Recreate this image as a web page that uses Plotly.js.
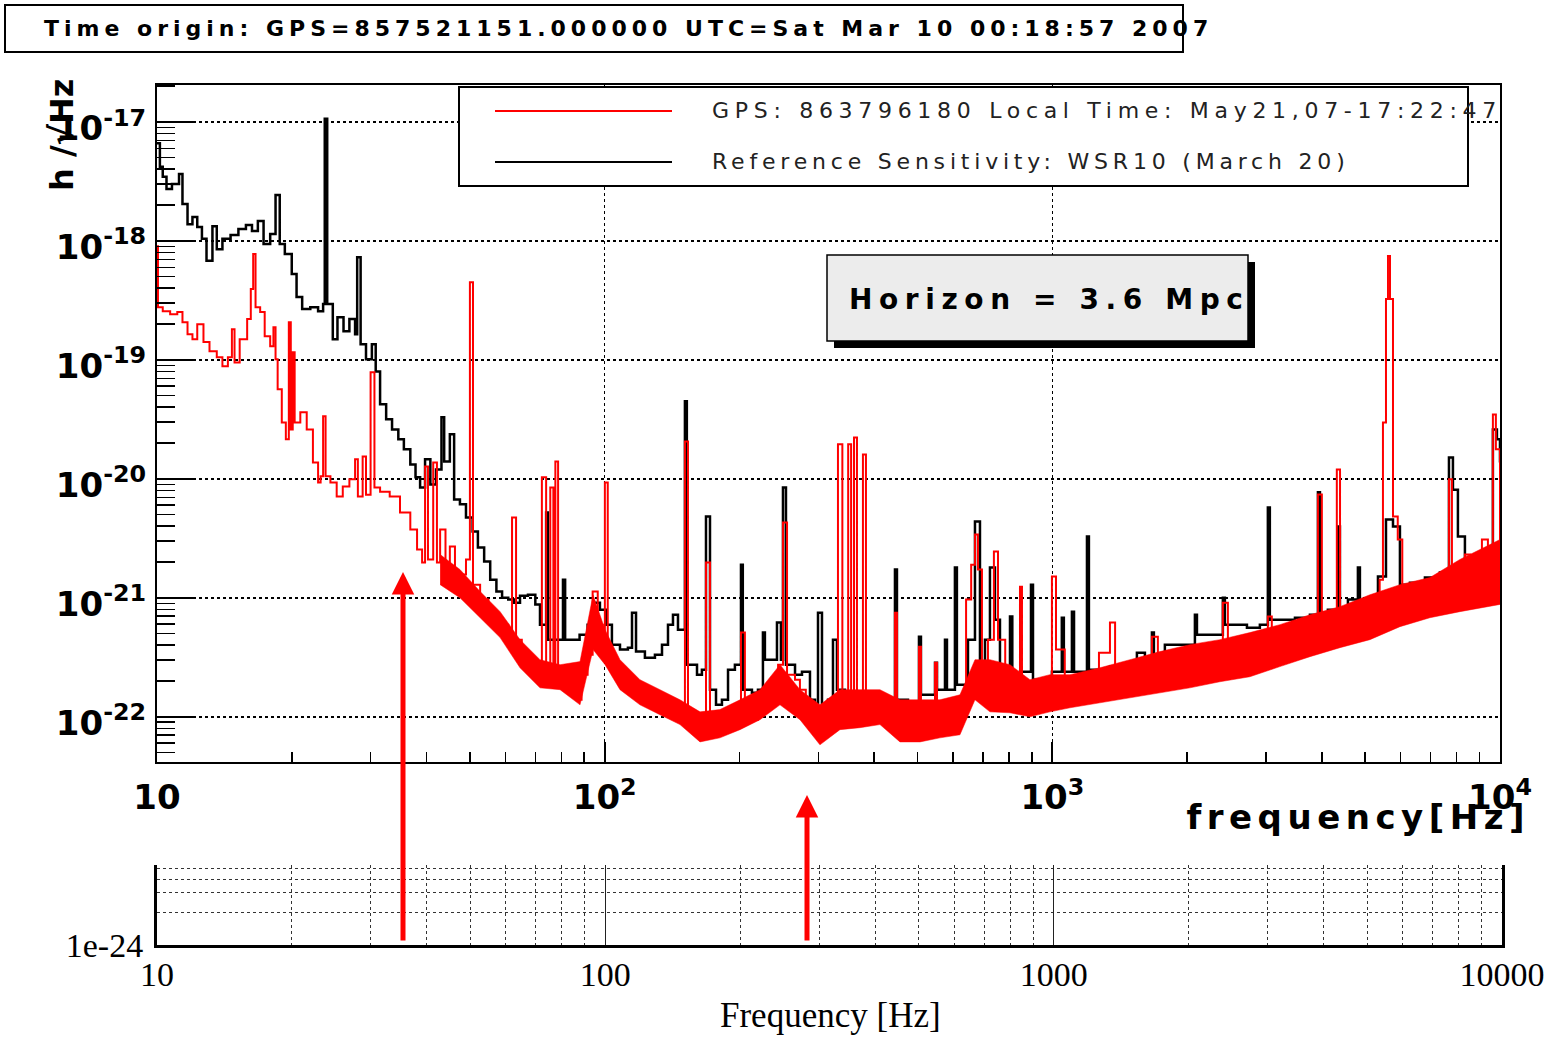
<!DOCTYPE html>
<html>
<head>
<meta charset="utf-8">
<script src="https://cdn.plot.ly/plotly-3.0.1.min.js"></script>
<style>
  html, body { margin: 0; padding: 0; background: #ffffff; }
  #chart { width: 1557px; height: 1038px; }
</style>
</head>
<body>
<div id="chart"></div>
<script>
// ---------------- data ----------------
// Reference sensitivity (black), frequency in Hz and strain amplitude h/sqrt(Hz)
const blackFreq = [
  10.0, 10.15, 10.3, 10.5, 10.8, 11.2, 11.4, 11.7, 12.0, 12.3, 12.6, 12.9, 13.3, 13.6, 14.0, 14.6, 15.2, 15.8, 16.3, 16.8,
  17.3, 17.9, 18.4, 18.8, 19.3, 20.0, 20.5, 21.1, 22.0, 22.9, 23.5, 23.7, 24.0, 24.7, 25.3, 26.1, 26.9, 27.7, 28.0, 28.5,
  29.3, 30.2, 30.8, 31.5, 32.5, 33.5, 34.6, 35.6, 36.8, 37.8, 38.7, 39.7, 40.8, 42.0, 43.2, 43.8, 45.1, 46.1, 47.5, 49.0,
  50.7, 52.1, 53.8, 55.5, 57.3, 59.0, 60.9, 62.8, 64.7, 67.4, 70.0, 71.7, 74.0, 74.7, 76.3, 80.7, 81.6, 83.6, 87.9, 91.6,
  94.5, 97.6, 100.7, 103.8, 108.2, 112.7, 115.1, 117.5, 123.0, 129.5, 134.3, 138.5, 142.1, 145.8, 151.1, 152.6, 155.1, 160.8, 164.9, 168.4,
  171.9, 177.3, 182.8, 188.6, 195.4, 201.6, 203.5, 206.8, 213.3, 220.0, 225.7, 228.0, 234.0, 242.6, 247.6, 250.2, 254.1, 266.2, 275.9, 287.5,
  295.0, 299.6, 305.8, 315.4, 323.6, 330.3, 344.2, 362.4, 381.5, 395.5, 412.1, 429.4, 445.1, 449.7, 456.7, 475.9, 503.6, 508.8, 527.5, 546.9,
  552.6, 575.7, 581.6, 590.0, 605.9, 612.1, 628.2, 648.0, 671.7, 689.2, 707.2, 725.5, 744.5, 763.9, 804.3, 813.9, 825.0, 846.7, 896.0, 905.3,
  938.4, 997.9, 1050, 1061, 1080, 1106, 1118, 1153, 1195, 1207, 1245, 1345, 1416, 1545, 1610, 1669, 1686, 1784, 1928, 2082,
  2104, 2249, 2404, 2429, 2532, 2721, 2908, 3030, 3061, 3224, 3483, 3762, 3920, 3961, 4126, 4344, 4390, 4574, 4815, 4865,
  5121, 5338, 5563, 5767, 5977, 6292, 6797, 7340, 7691, 7850, 8054, 8349, 8789, 9112, 9397, 9641, 9843, 10000
];
const blackAmp = [
  6.6e-18, 4.2e-18, 3.45e-18, 2.73e-18, 3.0e-18, 3.65e-18, 2.04e-18, 1.38e-18, 1.59e-18, 1.31e-18, 1.04e-18, 6.8e-19, 1.33e-18, 8.5e-19, 1.04e-18, 1.12e-18, 1.26e-18, 1.36e-18, 1.21e-18, 1.47e-18,
  9.4e-19, 1.14e-18, 2.43e-18, 9.4e-19, 7.75e-19, 5.26e-19, 3.37e-19, 2.67e-19, 2.77e-19, 2.56e-19, 2.94e-19, 1.06e-17, 2.94e-19, 1.49e-19, 2.28e-19, 1.74e-19, 2.2e-19, 1.64e-19, 7.3e-19, 1.35e-19,
  1.01e-19, 1.35e-19, 8.0e-20, 4.23e-20, 3.16e-20, 2.6e-20, 2.15e-20, 1.77e-20, 1.32e-20, 1.03e-20, 8.45e-21, 1.46e-20, 8.95e-21, 1.2e-20, 3.29e-20, 1.4e-20, 2.37e-20, 6.7e-21, 6.1e-21, 4.73e-21,
  3.6e-21, 2.65e-21, 2.02e-21, 1.42e-21, 1.13e-21, 1.0e-21, 9.67e-22, 9.1e-22, 1.04e-21, 1.06e-21, 8.77e-22, 5.95e-22, 5.2e-21, 4.45e-22, 4.45e-22, 1.42e-21, 4.45e-22, 4.45e-22, 4.9e-22, 5.95e-22,
  9.1e-22, 7.93e-22, 5.95e-22, 4.04e-22, 3.67e-22, 3.81e-22, 7.5e-22, 3.53e-22, 3.14e-22, 3.33e-22, 4.04e-22, 5.95e-22, 7.2e-22, 5.4e-22, 4.49e-20, 2.74e-22, 2.74e-22, 2.26e-22, 2.49e-22, 4.83e-21,
  1.69e-22, 1.26e-22, 1.39e-22, 2.49e-22, 2.74e-22, 1.9e-21, 1.69e-22, 1.69e-22, 1.59e-22, 1.69e-22, 5.1e-22, 3.02e-22, 3.02e-22, 6.2e-22, 3.02e-22, 8.45e-21, 2.74e-22, 2.26e-22, 2.39e-22, 1.39e-22,
  1.26e-22, 7.5e-22, 1.19e-22, 1.39e-22, 4.45e-22, 1.69e-22, 1.26e-22, 1.53e-22, 1.15e-22, 1.45e-22, 1.19e-22, 1.39e-22, 1.73e-21, 1.39e-22, 1.39e-22, 1.26e-22, 4.71e-22, 1.53e-22, 1.53e-22, 2.85e-22,
  1.69e-22, 4.45e-22, 1.69e-22, 1.69e-22, 1.8e-21, 1.86e-22, 1.86e-22, 4.45e-22, 4.38e-21, 2.34e-22, 4.45e-22, 1.8e-21, 6.55e-22, 2.05e-22, 6.95e-22, 2.05e-22, 2.05e-22, 2.39e-22, 1.29e-21, 2.05e-22,
  2.05e-22, 2.39e-22, 6.8e-22, 2.39e-22, 2.39e-22, 7.65e-22, 2.39e-22, 2.39e-22, 3.27e-21, 2.49e-22, 2.49e-22, 2.64e-22, 2.74e-22, 3.46e-22, 3.02e-22, 5.1e-22, 3.33e-22, 4.04e-22, 4.04e-22, 7.2e-22,
  4.9e-22, 4.9e-22, 1.0e-21, 5.95e-22, 5.95e-22, 5.6e-22, 5.95e-22, 5.75e-21, 6.55e-22, 6.55e-22, 6.8e-22, 7.2e-22, 7.7e-21, 7.5e-22, 7.93e-22, 3.98e-21, 8.1e-22, 9.67e-22, 1.8e-21, 8.9e-22,
  1.0e-21, 1.51e-21, 4.55e-21, 3.98e-21, 1.29e-21, 1.34e-21, 1.48e-21, 1.63e-21, 1.51e-20, 8.1e-21, 3.27e-21, 2.1e-21, 2.17e-21, 2.31e-21, 2.1e-21, 2.6e-20, 2.15e-20, 1.37e-20
];

// Current spectrum (red), frequency in Hz and strain amplitude
const redFreq = [
  10.0, 10.05, 10.3, 10.7, 11.1, 11.4, 11.7, 12.0, 12.3, 12.7, 13.1, 13.6, 14.0, 14.4, 14.7, 14.9, 15.3, 15.9, 16.2, 16.4,
  16.6, 17.0, 17.4, 17.9, 18.2, 18.4, 18.6, 19.0, 19.4, 19.7, 19.9, 20.1, 20.3, 20.9, 21.6, 22.3, 22.9, 23.2, 23.5, 23.8,
  24.4, 25.2, 26.0, 26.9, 27.7, 28.1, 28.8, 29.3, 30.0, 30.6, 31.5, 33.1, 34.9, 36.8, 38.1, 39.1, 39.7, 40.3, 41.4, 42.2,
  42.9, 44.1, 45.1, 46.3, 48.0, 49.0, 50.0, 50.8, 52.7, 55.0, 56.9, 58.9, 60.9, 62.1, 63.4, 65.3, 68.0, 70.5, 72.4, 74.0,
  75.6, 76.8, 77.6, 78.7, 81.6, 84.6, 86.6, 88.8, 91.6, 94.0, 96.5, 99.0, 100.1, 101.6, 105.3, 109.3, 114.1, 120.2, 126.5, 133.2,
  140.3, 146.2, 150.0, 151.1, 153.5, 159.2, 163.3, 168.4, 171.9, 179.1, 186.6, 193.5, 198.6, 201.6, 205.7, 213.3, 220.0, 228.0, 236.4, 244.0,
  250.2, 255.5, 266.2, 273.0, 281.4, 290.2, 299.6, 309.1, 319.0, 327.1, 332.0, 339.6, 349.9, 355.2, 360.6, 366.1, 377.5, 383.4, 395.5, 412.1,
  433.9, 445.1, 449.7, 456.7, 480.7, 503.6, 508.8, 518.0, 546.9, 552.6, 575.7, 605.9, 628.2, 641.7, 658.7, 671.7, 682.1, 696.3, 718.1, 740.4,
  756.2, 784.8, 813.9, 846.7, 855.4, 873.4, 938.4, 997.9, 1019, 1066, 1178, 1271, 1345, 1381, 1564, 1669, 1721, 2025, 2404, 2467,
  3030, 3092, 3762, 3920, 4000, 4254, 4320, 4392, 5121, 5385, 5477, 5563, 5620, 5679, 5767, 5910, 6050, 6797, 7572, 7691,
  7810, 8349, 8578, 9112, 9397, 9641, 9790, 10000
];
const redAmp = [
  9.0e-19, 2.77e-19, 2.56e-19, 2.42e-19, 2.52e-19, 2.07e-19, 1.64e-19, 1.49e-19, 1.99e-19, 1.41e-19, 1.18e-19, 1.05e-19, 8.83e-20, 1.05e-19, 1.81e-19, 9.5e-20, 1.49e-19, 2.2e-19, 3.93e-19, 7.75e-19,
  2.77e-19, 2.52e-19, 1.58e-19, 1.3e-19, 1.88e-19, 1.01e-19, 5.66e-20, 2.98e-20, 2.15e-20, 2.07e-19, 2.6e-20, 1.16e-19, 2.98e-20, 3.62e-20, 2.6e-20, 1.37e-20, 9.33e-21, 1.05e-20, 3.35e-20, 1.05e-20,
  9.33e-21, 7.1e-21, 8.6e-21, 9.9e-21, 1.46e-20, 7.1e-21, 1.54e-20, 7.35e-21, 7.86e-20, 8.45e-21, 7.8e-21, 7.1e-21, 5.2e-21, 3.75e-21, 2.55e-21, 1.98e-21, 1.27e-20, 2.1e-21, 1.37e-20, 1.98e-21,
  3.75e-21, 1.51e-21, 2.7e-21, 1.17e-21, 1.57e-21, 2.1e-21, 4.5e-19, 1.29e-21, 9.67e-22, 7.65e-22, 6.8e-22, 5.95e-22, 4.9e-22, 4.73e-21, 4.45e-22, 3.33e-22, 2.74e-22, 2.58e-22, 1.03e-20, 2.39e-22,
  8.45e-21, 2.49e-22, 1.4e-20, 2.26e-22, 2.39e-22, 2.13e-22, 1.39e-22, 2.26e-22, 3.33e-22, 1.13e-21, 5.95e-22, 3.67e-22, 9.33e-21, 3.33e-22, 2.49e-22, 2.26e-22, 1.86e-22, 1.69e-22, 1.39e-22, 1.26e-22,
  1.15e-22, 1.26e-22, 1.04e-22, 2.06e-20, 9.45e-23, 8.6e-23, 7.8e-23, 1.98e-21, 7.5e-23, 8.1e-23, 9.45e-23, 1.15e-22, 9.8e-23, 5.1e-22, 1.04e-22, 9.45e-23, 1.26e-22, 1.69e-22, 2.05e-22, 2.74e-22,
  4.3e-21, 2.26e-22, 2.05e-22, 1.69e-22, 1.04e-22, 8.6e-23, 7.06e-23, 7.8e-23, 9.45e-23, 1.26e-22, 1.95e-20, 1.39e-22, 1.95e-20, 1.39e-22, 2.23e-20, 1.39e-22, 1.6e-20, 1.26e-22, 1.15e-22, 1.04e-22,
  8.6e-23, 7.5e-22, 9.0e-23, 7.8e-23, 7.06e-23, 3.88e-22, 8.0e-23, 7.8e-23, 2.85e-22, 8.1e-23, 8.1e-23, 8.6e-23, 1.39e-22, 9.67e-22, 1.9e-21, 3.4e-21, 1.73e-21, 1.69e-22, 4.45e-22, 2.45e-21,
  4.45e-22, 1.53e-22, 1.69e-22, 1.24e-21, 1.69e-22, 1.69e-22, 1.39e-22, 1.51e-21, 3.67e-22, 1.69e-22, 1.86e-22, 3.46e-22, 6.2e-22, 2.05e-22, 2.26e-22, 4.71e-22, 2.58e-22, 3.02e-22, 9.1e-22, 3.67e-22,
  6.95e-22, 4.45e-22, 5.4e-22, 7.4e-21, 5.95e-22, 6.55e-22, 1.2e-20, 6.55e-22, 7.93e-22, 1.42e-21, 2.98e-20, 3.24e-19, 7.45e-19, 3.24e-19, 4.83e-21, 3.09e-21, 1.17e-21, 1.17e-21, 1.22e-21, 9.9e-21,
  1.29e-21, 2.31e-21, 1.73e-21, 3.09e-21, 1.9e-21, 3.48e-20, 1.77e-20, 9.67e-22
];

// Thickness of the noisy red spectrum (upper / lower edge) above ~40 Hz
const bandFreq = [
  42.9, 47.5, 52.7, 58.4, 64.7, 71.7, 79.5, 88.1, 94.2, 100.2, 108.2, 119.9, 132.9, 147.3, 163.3, 180.9, 200.6, 222.3, 246.4, 273.1,
  302.6, 335.4, 371.7, 412.1, 456.7, 506.3, 561.0, 621.8, 671.7, 725.5, 804.3, 891.3, 987.6, 1095, 1277, 1491, 1739, 2029, 2367, 2762,
  3224, 3762, 4390, 5121, 5977, 6973, 8136, 9497, 10000
];
const bandHigh = [
  2.31e-21, 1.73e-21, 1.13e-21, 7.65e-22, 4.45e-22, 3.02e-22, 2.74e-22, 2.91e-22, 1.06e-21, 5.4e-22, 3.02e-22, 2.05e-22, 1.69e-22, 1.39e-22, 1.10e-22, 1.15e-22, 1.39e-22, 1.69e-22, 2.74e-22, 1.69e-22,
  1.26e-22, 1.69e-22, 1.69e-22, 1.69e-22, 1.39e-22, 1.39e-22, 1.39e-22, 1.53e-22, 3.02e-22, 3.02e-22, 2.74e-22, 2.05e-22, 2.26e-22, 2.26e-22, 2.58e-22, 3.02e-22, 3.53e-22, 4.04e-22, 4.45e-22, 5.1e-22,
  5.95e-22, 7.2e-22, 8.43e-22, 1.06e-21, 1.29e-21, 1.48e-21, 2.1e-21, 2.8e-21, 3.09e-21
];
const bandLow = [
  1.29e-21, 1.0e-21, 6.8e-22, 4.63e-22, 2.58e-22, 1.75e-22, 1.69e-22, 1.26e-22, 3.67e-22, 2.74e-22, 1.69e-22, 1.26e-22, 1.04e-22, 8.6e-23, 6.15e-23, 6.65e-23, 7.8e-23, 9.45e-23, 1.26e-22, 9.45e-23,
  5.81e-23, 7.8e-23, 8.1e-23, 8.6e-23, 6.15e-23, 6.15e-23, 6.65e-23, 7.06e-23, 1.39e-22, 1.10e-22, 1.08e-22, 1.0e-22, 1.10e-22, 1.19e-22, 1.31e-22, 1.45e-22, 1.59e-22, 1.75e-22, 1.97e-22, 2.17e-22,
  2.64e-22, 3.2e-22, 3.81e-22, 4.45e-22, 5.72e-22, 6.8e-22, 7.65e-22, 8.43e-22, 8.8e-22
];

// Tick labels
const freqTicks = [10, 100, 1000, 10000];
const freqTickText = ['10', '10<sup>2</sup>', '10<sup>3</sup>', '10<sup>4</sup>'];
const lowerFreqTickText = ['10', '100', '1000', '10000'];
const ampTicks = [1e-22, 1e-21, 1e-20, 1e-19, 1e-18, 1e-17];
const ampTickText = ['10<sup>-22</sup>', '10<sup>-21</sup>', '10<sup>-20</sup>', '10<sup>-19</sup>', '10<sup>-18</sup>', '10<sup>-17</sup>'];
const lowerAmpTicks = [1e-24];
const lowerAmpTickText = ['1e-24'];
const lowerAmpGrid = [2e-24, 3e-24, 4e-24, 5e-24];

// Texts
const headerText = 'Time origin: GPS=857521151.000000 UTC=Sat Mar 10 00:18:57 2007';
const redName = 'GPS: 863796180 Local Time: May21,07-17:22:47';
const blackName = 'Reference Sensitivity: WSR10 (March 20)';
const horizonText = 'Horizon = 3.6 Mpc';

// ---------------- layout helpers ----------------
const W = 1557, H = 1038;
const px = x => x / W;
const py = y => 1 - y / H;

// minor log ticks 2..9 per decade
function minorTicks(lo, hi) {
  const out = [];
  for (let e = lo; e < hi; e++) for (let m = 2; m <= 9; m++) out.push(m * Math.pow(10, e));
  return out;
}
const xMinor = minorTicks(1, 4);
const yMinor = minorTicks(-23, -16);

const traces = [
  { x: blackFreq, y: blackAmp, name: blackName, type: 'scatter', mode: 'lines',
    line: { color: '#000000', width: 2.5, shape: 'hv' }, showlegend: false, hoverinfo: 'skip' },
  { x: bandFreq, y: bandHigh, name: 'red upper edge', type: 'scatter', mode: 'lines',
    line: { color: '#ff0000', width: 0.5 }, showlegend: false, hoverinfo: 'skip' },
  { x: bandFreq, y: bandLow, name: 'red lower edge', type: 'scatter', mode: 'lines',
    line: { color: '#ff0000', width: 0.5 }, fill: 'tonexty', fillcolor: '#ff0000', showlegend: false, hoverinfo: 'skip' },
  { x: redFreq, y: redAmp, name: redName, type: 'scatter', mode: 'lines',
    line: { color: '#ff0000', width: 2, shape: 'hv' }, showlegend: false, hoverinfo: 'skip' },
  { x: [], y: [], xaxis: 'x2', yaxis: 'y2', type: 'scatter', mode: 'lines', showlegend: false, hoverinfo: 'skip' }
];

const boldFont = (size) => ({ family: 'DejaVu Sans', size: size, color: '#000000', weight: 'bold' });
const serifFont = (size) => ({ family: 'Liberation Serif', size: size, color: '#000000' });

const layout = {
  width: W, height: H,
  margin: { l: 0, r: 0, t: 0, b: 0 },
  paper_bgcolor: '#ffffff', plot_bgcolor: '#ffffff',
  showlegend: false,
  xaxis: {
    type: 'log', range: [1, 4], domain: [px(157), px(1500)], anchor: 'y',
    showline: true, linecolor: '#000000', linewidth: 2, mirror: true,
    ticks: 'inside', ticklen: 20, tickwidth: 2, tickcolor: '#000000',
    tickmode: 'array', tickvals: freqTicks, ticktext: freqTickText,
    tickfont: boldFont(34), ticklabelstandoff: 4,
    showgrid: true, gridcolor: '#000000', griddash: 'dot', gridwidth: 1.5,
    minor: { tickmode: 'array', tickvals: xMinor, ticks: 'inside', ticklen: 10, tickwidth: 1.5, tickcolor: '#000000', showgrid: false },
    zeroline: false, automargin: false, fixedrange: true
  },
  yaxis: {
    type: 'log', range: [-22.38, -16.69], domain: [py(762), py(85)], anchor: 'x',
    showline: true, linecolor: '#000000', linewidth: 2, mirror: true,
    ticks: 'inside', ticklen: 37, tickwidth: 2, tickcolor: '#000000',
    tickmode: 'array', tickvals: ampTicks, ticktext: ampTickText,
    tickfont: boldFont(34), ticklabelstandoff: 2, ticklabelshift: 6,
    showgrid: true, gridcolor: '#000000', griddash: 'dot', gridwidth: 1.5,
    minor: { tickmode: 'array', tickvals: yMinor, ticks: 'inside', ticklen: 18, tickwidth: 1.5, tickcolor: '#000000', showgrid: false },
    zeroline: false, automargin: false, fixedrange: true
  },
  xaxis2: {
    type: 'log', range: [1, 4], domain: [px(157), px(1502)], anchor: 'y2',
    showline: true, linecolor: '#000000', linewidth: 3, mirror: false,
    ticks: '', tickmode: 'array', tickvals: freqTicks, ticktext: lowerFreqTickText,
    tickfont: serifFont(34), ticklabelstandoff: -3,
    showgrid: true, gridcolor: '#222222', gridwidth: 1.2,
    minor: { tickmode: 'array', tickvals: xMinor, ticks: '', showgrid: true, griddash: 'dot', gridcolor: '#333333', gridwidth: 1 },
    zeroline: false, automargin: false, fixedrange: true
  },
  yaxis2: {
    type: 'log', range: [-24, -23.27], domain: [py(945), py(865)], anchor: 'x2',
    showline: true, linecolor: '#000000', linewidth: 3, mirror: true,
    ticks: '', tickmode: 'array', tickvals: lowerAmpTicks, ticktext: lowerAmpTickText,
    tickfont: serifFont(34), ticklabelstandoff: 4,
    showgrid: false,
    minor: { tickmode: 'array', tickvals: lowerAmpGrid, ticks: '', showgrid: true, griddash: 'dot', gridcolor: '#333333', gridwidth: 1 },
    zeroline: false, automargin: false, fixedrange: true
  },
  shapes: [
    // header box
    { type: 'rect', xref: 'paper', yref: 'paper', x0: px(5), x1: px(1183), y0: py(52), y1: py(5),
      line: { color: '#000000', width: 2 }, fillcolor: 'rgba(0,0,0,0)' },
    // legend box
    { type: 'rect', xref: 'paper', yref: 'paper', x0: px(459), x1: px(1468), y0: py(186), y1: py(87),
      line: { color: '#000000', width: 2 }, fillcolor: '#ffffff' },
    { type: 'line', xref: 'paper', yref: 'paper', x0: px(495), x1: px(672), y0: py(111), y1: py(111),
      line: { color: '#ff0000', width: 2 } },
    { type: 'line', xref: 'paper', yref: 'paper', x0: px(495), x1: px(672), y0: py(162), y1: py(162),
      line: { color: '#000000', width: 2 } },
    // horizon box with shadow
    { type: 'rect', xref: 'paper', yref: 'paper', x0: px(834), x1: px(1255), y0: py(348), y1: py(262),
      line: { width: 0 }, fillcolor: '#000000' },
    { type: 'rect', xref: 'paper', yref: 'paper', x0: px(827), x1: px(1248), y0: py(341), y1: py(255),
      line: { color: '#000000', width: 1.5 }, fillcolor: '#ececec' }
  ],
  annotations: [
    { xref: 'paper', yref: 'paper', x: px(42), y: py(28), xanchor: 'left', yanchor: 'middle',
      text: headerText, showarrow: false, font: boldFont(22) },
    { xref: 'paper', yref: 'paper', x: px(710), y: py(111), xanchor: 'left', yanchor: 'middle',
      text: redName, showarrow: false, font: { family: 'DejaVu Sans', size: 22, color: '#222222' } },
    { xref: 'paper', yref: 'paper', x: px(710), y: py(162), xanchor: 'left', yanchor: 'middle',
      text: blackName, showarrow: false, font: { family: 'DejaVu Sans', size: 22, color: '#222222' } },
    { xref: 'paper', yref: 'paper', x: px(847), y: py(299), xanchor: 'left', yanchor: 'middle',
      text: horizonText, showarrow: false, font: boldFont(28) },
    { xref: 'paper', yref: 'paper', x: px(62), y: py(135), xanchor: 'center', yanchor: 'middle',
      text: 'h /√Hz', textangle: -90, showarrow: false, font: boldFont(32) },
    { xref: 'paper', yref: 'paper', x: px(1532), y: py(817), xanchor: 'right', yanchor: 'middle',
      text: 'frequency[Hz]', showarrow: false, font: boldFont(34) },
    { xref: 'paper', yref: 'paper', x: px(830), y: py(1015), xanchor: 'center', yanchor: 'middle',
      text: 'Frequency [Hz]', showarrow: false, font: serifFont(35) },
    // red arrows
    { xref: 'paper', yref: 'paper', x: px(403), y: py(572), ax: 0, ay: 370, text: '',
      showarrow: true, arrowhead: 2, arrowsize: 0.9, arrowwidth: 5, arrowcolor: '#ff0000', standoff: 0 },
    { xref: 'paper', yref: 'paper', x: px(807), y: py(795), ax: 0, ay: 147, text: '',
      showarrow: true, arrowhead: 2, arrowsize: 0.9, arrowwidth: 5, arrowcolor: '#ff0000', standoff: 0 }
  ]
};

// letter spacing of the stretched ROOT texts: [start of text, spacing, anchored side]
const spacing = [
  ['Time origin', '5.0px', 'start'],
  ['GPS:', '5.7px', 'start'],
  ['Reference', '4.8px', 'start'],
  ['Horizon', '6.6px', 'start'],
  ['frequency[Hz]', '5.5px', 'end']
];

Plotly.newPlot('chart', traces, layout, { displayModeBar: false, staticPlot: true }).then(() => {
  document.querySelectorAll('.annotation-text').forEach(t => {
    spacing.forEach(([k, v, side]) => {
      if (t.textContent.indexOf(k) === 0) {
        const bb = t.getBBox();
        t.style.letterSpacing = v;
        t.setAttribute('text-anchor', side);
        t.setAttribute('x', side === 'start' ? bb.x : bb.x + bb.width);
      }
    });
  });
});
</script>
</body>
</html>
